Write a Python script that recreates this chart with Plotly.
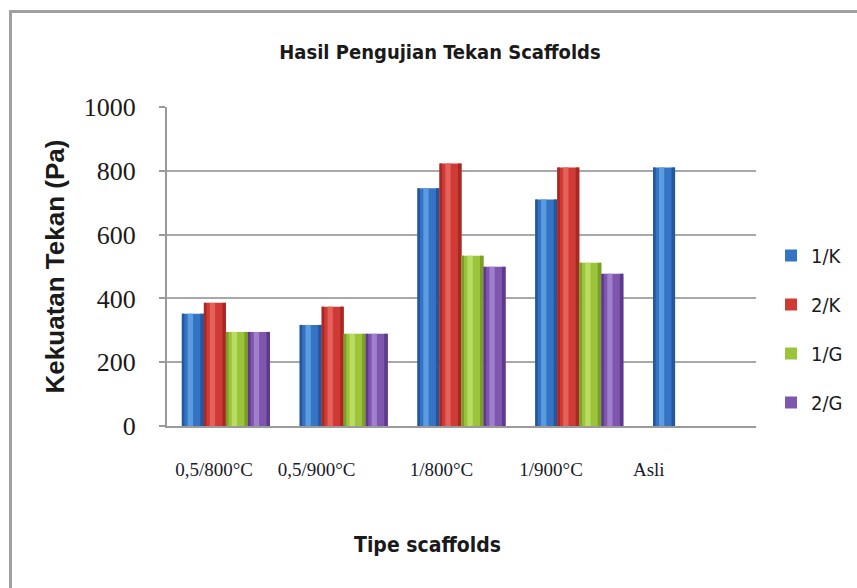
import plotly.graph_objects as go

# Compressive strength test results per scaffold type
categories = ["0,5/800°C", "0,5/900°C", "1/800°C", "1/900°C", "Asli"]
series_names = ["1/K", "2/K", "1/G", "2/G"]
val_1K = [352, 317, 745, 710, 810]
val_2K = [386, 374, 823, 810, None]
val_1G = [295, 289, 534, 512, None]
val_2G = [295, 289, 499, 477, None]
y_ticks = [0, 200, 400, 600, 800, 1000]

series_values = [val_1K, val_2K, val_1G, val_2G]
base_colors = ["#3574c4", "#cf3a35", "#9bc43b", "#7f56ae"]
edge_colors = ["#24589e", "#a82823", "#7a9e26", "#5f3a8c"]
light_colors = ["#5b9be0", "#e5625c", "#b9dc62", "#a07fcc"]

# category labels sit slightly left of their groups (perspective offset)
label_shift = [-0.10, -0.23, -0.17, -0.24, -0.41]

W, H = 857, 588
L, R, T, B = 167, 101, 107, 162
pw, ph = W - L - R, H - T - B

COND = "DejaVu Sans Condensed, Liberation Sans Narrow, Arial"
SERIF = "Liberation Serif, Times New Roman"

bar_w = 0.187
start = -2 * bar_w

fig = go.Figure()
for i, (name, vals) in enumerate(zip(series_names, series_values)):
    off = start + i * bar_w
    # main bar body
    fig.add_trace(go.Bar(
        x=categories, y=vals, name=name, offset=off, width=bar_w,
        marker=dict(color=base_colors[i], line=dict(width=0)),
        legendgroup=name, showlegend=True,
    ))
    # darker edges and a light highlight give the rounded look
    fig.add_trace(go.Bar(
        x=categories, y=vals, offset=off, width=0.022,
        marker=dict(color=edge_colors[i], line=dict(width=0)),
        legendgroup=name, showlegend=False, hoverinfo="skip",
    ))
    fig.add_trace(go.Bar(
        x=categories, y=vals, offset=off + bar_w - 0.03, width=0.03,
        marker=dict(color=edge_colors[i], line=dict(width=0)),
        legendgroup=name, showlegend=False, hoverinfo="skip",
    ))
    fig.add_trace(go.Bar(
        x=categories, y=vals, offset=off + 0.05, width=0.045,
        marker=dict(color=light_colors[i], line=dict(width=0)),
        legendgroup=name, showlegend=False, hoverinfo="skip",
    ))

# tick labels on an overlaid linear axis
label_x = [i + s for i, s in enumerate(label_shift)]
fig.add_trace(go.Scatter(
    x=label_x, y=[0] * len(label_x), xaxis="x2", mode="markers",
    marker=dict(opacity=0), showlegend=False, hoverinfo="skip",
))

fig.update_layout(
    width=W, height=H,
    margin=dict(l=L, r=R, t=T, b=B, autoexpand=False),
    barmode="overlay",
    paper_bgcolor="white", plot_bgcolor="white",
    title=dict(
        text="<b>Hasil Pengujian Tekan Scaffolds</b>",
        x=440 / W, xanchor="center", y=1 - 52 / H, yanchor="middle",
        font=dict(family=COND, size=20, color="#1a1a1a"),
    ),
    legend=dict(
        x=(771 - L) / pw, xanchor="left",
        y=1 - (236 - T) / ph, yanchor="top",
        font=dict(family=COND, size=20, color="#1a1a1a"),
        tracegroupgap=20, bgcolor="rgba(0,0,0,0)", itemwidth=30,
    ),
    showlegend=True,
    xaxis2=dict(
        overlaying="x", anchor="y", side="bottom", range=[-0.5, 4.5],
        tickvals=label_x, ticktext=categories,
        showline=False, showgrid=False, zeroline=False, ticks="",
        tickfont=dict(family=SERIF, size=19, color="#1a1a2a"),
        ticklabelstandoff=30,
    ),
)

fig.layout.xaxis.update(
    type="category", range=[-0.5, 4.5],
    showline=True, linecolor="#9a9a9a", linewidth=2,
    ticks="", showgrid=False, showticklabels=False,
)
fig.update_yaxes(
    range=[0, 1000], tickvals=y_ticks,
    showline=True, linecolor="#9a9a9a", linewidth=2,
    ticks="outside", ticklen=6, tickcolor="#9a9a9a", tickwidth=2,
    showgrid=True, gridcolor="#a8a8a8", gridwidth=2,
    zeroline=False,
    tickfont=dict(family=SERIF, size=26, color="#1a1a1a"),
    ticklabelstandoff=18,
    title=dict(text="<b>Kekuatan Tekan (Pa)</b>", standoff=12,
               font=dict(family="Liberation Sans, Arial", size=26, color="#1a1a1a")),
)

# x-axis title
fig.add_annotation(
    text="<b>Tipe scaffolds</b>", xref="paper", yref="paper",
    x=(427 - L) / pw, y=-(545 - T - ph) / ph, xanchor="center", yanchor="middle",
    showarrow=False, font=dict(family=COND, size=21, color="#1a1a1a"),
)

# outer chart frame
fig.add_shape(
    type="rect", xref="paper", yref="paper",
    x0=(10.5 - L) / pw, x1=(W + 20 - L) / pw,
    y0=-(B + 20) / ph, y1=1 + (T - 11.5) / ph,
    line=dict(color="#a0a0a0", width=3), fillcolor="rgba(0,0,0,0)", layer="below",
)

fig.write_html("out.html")
